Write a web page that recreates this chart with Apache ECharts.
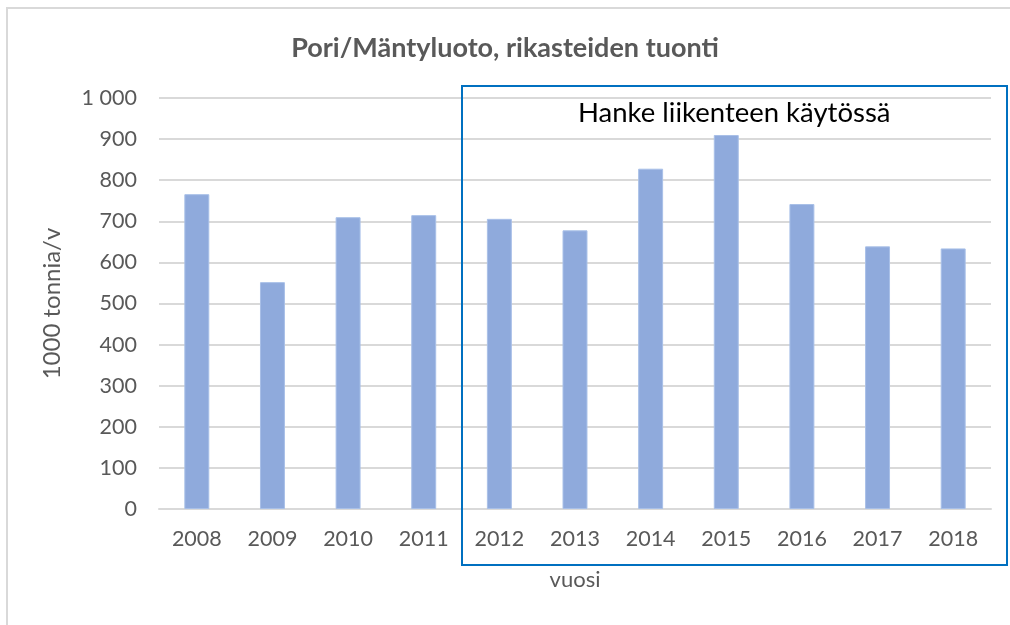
<!DOCTYPE html>
<html>
<head>
<meta charset="utf-8">
<script src="https://cdn.jsdelivr.net/npm/echarts@6/dist/echarts.min.js"></script>
<style>
html, body { margin: 0; padding: 0; background: #fff; }
#chartContainer { width: 1010px; height: 625px; }
</style>
</head>
<body>
<div id="chartContainer"></div>
<script>
var years = ['2008', '2009', '2010', '2011', '2012', '2013', '2014', '2015', '2016', '2017', '2018'];
var tonnes = [766, 552, 710, 715, 706, 678, 828, 910, 742, 639, 634];
var yTicks = [0, 100, 200, 300, 400, 500, 600, 700, 800, 900, 1000];

var font = 'Lato, "Open Sans", sans-serif';
var option = null;

function initOption() {
	option = {
		animation: false,
		title: {
			text: 'Pori/Mäntyluoto, rikasteiden tuonti',
			left: 'center',
			top: 30,
			textStyle: { fontFamily: font, fontSize: 27, fontWeight: 'bold', color: '#595959' }
		},
		grid: { left: 159, right: 19, top: 98, bottom: 116 },
		xAxis: {
			type: 'category',
			data: years,
			name: 'vuosi',
			nameLocation: 'middle',
			nameGap: 60,
			nameTextStyle: { fontFamily: font, fontSize: 22, color: '#595959' },
			axisLine: { lineStyle: { color: '#d9d9d9', width: 2 } },
			axisTick: { show: false },
			axisLabel: { fontFamily: font, fontSize: 21.5, color: '#595959', margin: 19 }
		},
		yAxis: {
			type: 'value',
			min: yTicks[0],
			max: yTicks[yTicks.length - 1],
			interval: 100,
			name: '1000 tonnia/v',
			nameLocation: 'middle',
			nameRotate: 90,
			nameGap: 95,
			nameTextStyle: { fontFamily: font, fontSize: 24, color: '#595959' },
			axisLine: { show: false },
			axisTick: { show: false },
			splitLine: { lineStyle: { color: '#d9d9d9', width: 2 } },
			axisLabel: {
				fontFamily: font, fontSize: 21.5, color: '#595959', margin: 22,
				formatter: function(v) { return v >= 1000 ? '1 000' : String(v); }
			}
		},
		series: [{
			type: 'bar',
			data: tonnes,
			barWidth: '33%',
			itemStyle: { color: '#8faadc', borderColor: '#a9c0e8', borderWidth: 1 }
		}],
		graphic: [
			{
				type: 'rect', silent: true,
				shape: { x: 7, y: 8, width: 1010, height: 630 },
				style: { fill: null, stroke: '#d9d9d9', lineWidth: 2 }
			},
			{
				type: 'rect', silent: true, z: 100,
				shape: { x: 462, y: 86, width: 545, height: 479 },
				style: { fill: null, stroke: '#0070c0', lineWidth: 2 }
			},
			{
				type: 'text', silent: true, z: 100,
				left: 578, top: 99,
				style: { text: 'Hanke liikenteen käytössä', font: '27.5px ' + font, fill: '#000' }
			}
		]
	};
}

initOption();
var chartContainer = echarts.init(document.getElementById('chartContainer'));
chartContainer.setOption(option);
</script>
</body>
</html>
